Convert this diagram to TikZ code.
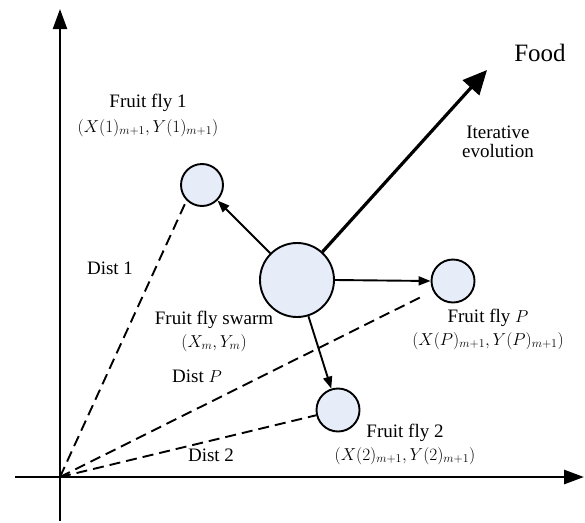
\documentclass[tikz,border=0pt]{standalone}
\usepackage{fontspec}
\setmainfont{Liberation Serif}
\usetikzlibrary{arrows.meta}
\definecolor{flyfill}{HTML}{E6ECF8}
\tikzset{
  fly/.style={circle, draw, line width=1.9pt, fill=flyfill, inner sep=0pt},
  lbl/.style={font=\fontsize{19}{22}\selectfont, inner sep=0pt},
  coordlbl/.style={font=\fontsize{18}{21}\selectfont, inner sep=0pt},
  axis/.style={line width=2.8pt, -{Triangle[length=20pt,width=14pt]}},
  move/.style={line width=1.9pt, -{Triangle[length=12pt,width=9pt]}},
  dist/.style={line width=1.9pt, dash pattern=on 11pt off 6pt},
}
\begin{document}
\begin{tikzpicture}[x=1pt,y=-1pt]
\useasboundingbox (0,0) rectangle (585,522);
% axes
\coordinate (O) at (60,477);
\coordinate (xs) at (15,477);
\coordinate (xe) at (584,477);
\coordinate (ys) at (60,521);
\coordinate (ye) at (60,9);
\draw[axis] (xs) -- (xe);
\draw[axis, line width=2.2pt] (ys) -- (ye);
% flies
\node[fly, minimum size=74pt] (swarm) at (297,280) {};
\node[fly, minimum size=42pt] (f1) at (202,185) {};
\node[fly, minimum size=43pt] (fp) at (453,281) {};
\node[fly, minimum size=43pt] (f2) at (338,410) {};
% food arrow
\coordinate (food) at (487,70);
\draw[line width=3.2pt, -{Triangle[length=24pt,width=22pt]}] (swarm) -- (food);
% moves
\draw[move] (swarm) -- (f1);
\draw[move] (swarm.east) -- (fp.west);
\draw[move] (swarm) -- (f2);
% distances
\draw[dist] (O) -- (f1.south west);
\draw[dist, shorten >=11pt] (O) -- (fp);
\draw[dist] (O) -- (f2);
% labels
\node[font=\fontsize{25}{28}\selectfont, inner sep=0pt] (foodl) at (540,53) {Food};
\node[lbl, align=center] (iter) at (498,142) {Iterative\\[-3pt]evolution};
\node[lbl] (l1) at (148,103) {Fruit fly 1};
\node[coordlbl] (c1) at (148,128) {$(X(1)_{m+1},Y(1)_{m+1})$};
\node[lbl] (d1) at (110,268) {Dist 1};
\node[lbl] (ls) at (214,320) {Fruit fly swarm};
\node[coordlbl] (cs) at (214,343) {$(X_m,Y_m)$};
\node[lbl] (dp) at (197,376) {Dist $P$};
\node[lbl] (d2) at (211,455) {Dist 2};
\node[lbl] (lp) at (488,318) {Fruit fly $P$};
\node[coordlbl] (cp) at (488,341) {$(X(P)_{m+1},Y(P)_{m+1})$};
\node[lbl] (l2) at (405,433) {Fruit fly 2};
\node[coordlbl] (c2) at (405,456) {$(X(2)_{m+1},Y(2)_{m+1})$};
\end{tikzpicture}
\end{document}
